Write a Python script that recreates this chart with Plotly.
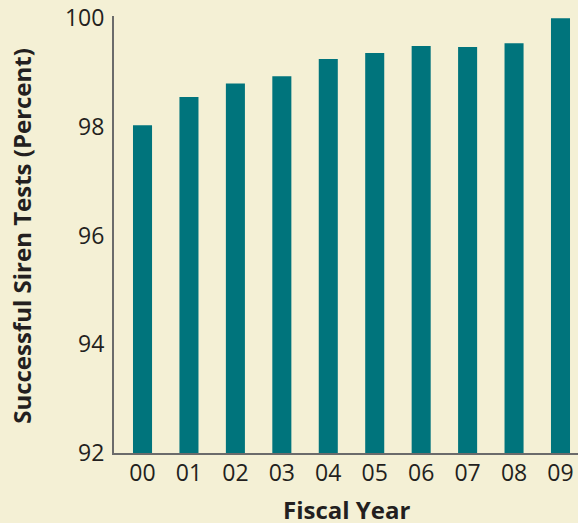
import plotly.graph_objects as go

years = ["00", "01", "02", "03", "04", "05", "06", "07", "08", "09"]
success_pct = [98.03, 98.55, 98.80, 98.93, 99.25, 99.36, 99.49, 99.47, 99.54, 100.0]
y_ticks = [92, 94, 96, 98, 100]

FONT = "Open Sans"
BG = "#f4f0d5"
TEAL = "#00747c"
TXT = "#231f20"

x_idx = list(range(len(years)))

fig = go.Figure(go.Bar(
    x=x_idx, y=success_pct, marker=dict(color=TEAL, line=dict(width=0)),
    width=0.41,
))

fig.update_layout(
    width=578, height=523,
    margin=dict(l=114, r=0, t=16, b=70),
    paper_bgcolor=BG, plot_bgcolor=BG,
    font=dict(family=FONT, size=23, color=TXT),
    showlegend=False,
    xaxis=dict(
        range=[-0.614, 9.377], tickvals=x_idx, ticktext=years,
        showgrid=False, zeroline=False, showline=True, linecolor="#6b6b6b", linewidth=2,
        ticks="", ticklabelstandoff=-2,
    ),
    yaxis=dict(
        range=[92, 100.04], tickvals=y_ticks, ticktext=[str(t) for t in y_ticks],
        showgrid=False, zeroline=False, showline=True, linecolor="#6b6b6b", linewidth=2,
        ticks="outside", ticklen=3, tickcolor="rgba(0,0,0,0)",
    ),
    annotations=[
        dict(text="<b>Fiscal Year</b>", xref="paper", yref="paper",
             x=0.5, y=(453 - 510) / 437, xanchor="center", yanchor="middle",
             showarrow=False, font=dict(size=24, color=TXT)),
        dict(text="<b>Successful Siren Tests (Percent)</b>", xref="paper", yref="paper",
             x=(22 - 114) / 464, y=0.497, xanchor="center", yanchor="middle",
             textangle=-90, showarrow=False, font=dict(size=24, color=TXT)),
    ],
)

fig.write_html("out.html", config={"displayModeBar": False},
               post_script="document.body.style.margin='0';document.body.style.background='%s';" % BG)
